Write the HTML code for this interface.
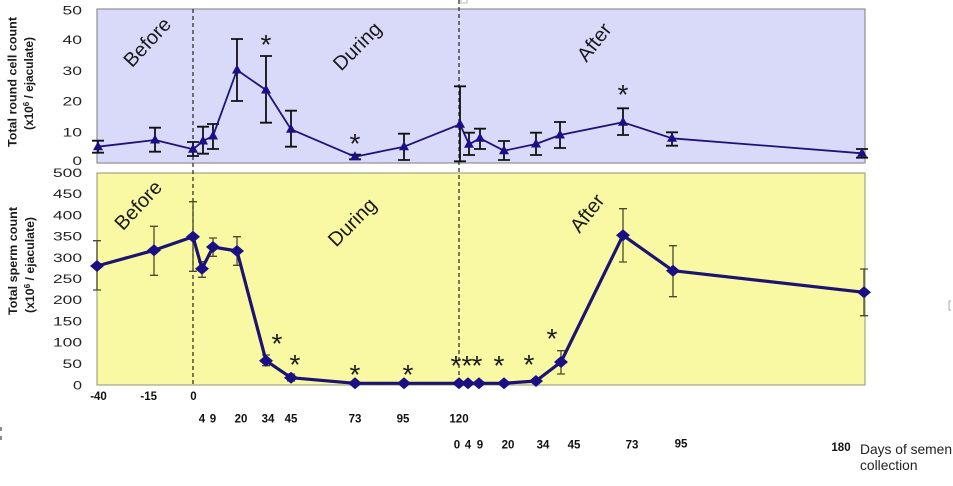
<!DOCTYPE html>
<html><head><meta charset="utf-8"><style>
html,body{margin:0;padding:0;background:#fff;}
svg{display:block;}
text{font-family:"Liberation Sans",Arial,sans-serif;}
</style></head><body>
<svg width="953" height="486" viewBox="0 0 953 486" xmlns="http://www.w3.org/2000/svg">
<defs>
<path id="dm" d="M0 -6L7 0L0 6L-7 0Z" fill="#1a0f85"/>
<path id="tr" d="M0 -5.5L5 3.5L-5 3.5Z" fill="#1a0f85"/>
</defs>
<rect width="953" height="486" fill="#fff"/>
<!-- panels -->
<rect x="97" y="9" width="768" height="154" fill="#d9d9fa" stroke="#8f8f8f" stroke-width="1.2"/>
<rect x="97" y="173" width="768" height="212" fill="#f9f9a3" stroke="#a3a387" stroke-width="1.2"/>
<!-- dashed lines -->
<line x1="193" y1="9" x2="193" y2="386" stroke="#222" stroke-width="1.2" stroke-dasharray="4 3"/>
<line x1="459" y1="0" x2="459" y2="385" stroke="#222" stroke-width="1.2" stroke-dasharray="4 3"/>
<!-- small artifacts -->
<rect x="461" y="-3" width="6" height="6" fill="none" stroke="#bbb" stroke-width="1"/>
<path d="M951 301H949V310H951" fill="none" stroke="#aaa" stroke-width="1"/>
<path d="M1 427V431M1 436V440" stroke="#666" stroke-width="1.5"/>

<!-- region labels -->
<g font-size="20" fill="#1a1a1a" text-anchor="middle">
<text transform="translate(147,42) rotate(-47)" dy="7">Before</text>
<text transform="translate(357,46) rotate(-45)" dy="7">During</text>
<text transform="translate(594,42) rotate(-52)" dy="7">After</text>
<text transform="translate(138,205) rotate(-47)" dy="7">Before</text>
<text transform="translate(352,222) rotate(-45)" dy="7">During</text>
<text transform="translate(587,213) rotate(-52)" dy="7">After</text>
</g>

<!-- top error bars -->
<path fill="none" stroke="#111" stroke-width="1.8" d="M98 140.7V152.7M92 140.7H104M92 152.7H104
M155 127.7V151.7M149 127.7H161M149 151.7H161
M193 142V156M187 142H199M187 156H199
M203 126.7V153.7M197 126.7H209M197 153.7H209
M213 124V149M207 124H219M207 149H219
M237 39V101M231 39H243M231 101H243
M266 56V122.7M260 56H272M260 122.7H272
M291 110.7V146.7M285 110.7H297M285 146.7H297
M355 154.7V159.3M349 154.7H361M349 159.3H361
M404 133.7V160M398 133.7H410M398 160H410
M460 86.3V161.3M454 86.3H466M454 161.3H466
M469 132.7V155M463 132.7H475M463 155H475
M480 128.7V149M474 128.7H486M474 149H486
M504 141V160M498 141H510M498 160H510
M536 132.7V155M530 132.7H542M530 155H542
M560 122V148M554 122H566M554 148H566
M623 108.3V135M617 108.3H629M617 135H629
M672 132.3V145.7M666 132.3H678M666 145.7H678
M862 149V157.7M856 149H868M856 157.7H868"/>
<!-- top line -->
<polyline fill="none" stroke="#1c1478" stroke-width="1.8" stroke-linejoin="round" points="98,146.7 155,140 193,149.3 203,141 213,136 237,70 266,90 291,129.3 355,156.7 404,146.7 460,124.3 469,144.3 480,138.3 504,150.7 536,144 560,135 623,122.3 672,138.3 862,153.3"/>
<g>
<use href="#tr" x="98" y="146.7"/><use href="#tr" x="155" y="140"/><use href="#tr" x="193" y="149.3"/><use href="#tr" x="203" y="141"/><use href="#tr" x="213" y="136"/><use href="#tr" x="237" y="70"/><use href="#tr" x="266" y="90"/><use href="#tr" x="291" y="129.3"/><use href="#tr" x="355" y="156.7"/><use href="#tr" x="404" y="146.7"/><use href="#tr" x="460" y="124.3"/><use href="#tr" x="469" y="144.3"/><use href="#tr" x="480" y="138.3"/><use href="#tr" x="504" y="150.7"/><use href="#tr" x="536" y="144"/><use href="#tr" x="560" y="135"/><use href="#tr" x="623" y="122.3"/><use href="#tr" x="672" y="138.3"/><use href="#tr" x="862" y="153.3"/>
</g>

<!-- bottom error bars -->
<path fill="none" stroke="#4a4a2a" stroke-width="1.3" d="M97 240.7V290M93 240.7H101M93 290H101
M154 226.3V275.3M150 226.3H158M150 275.3H158
M193 201.7V271.3M189 201.7H197M189 271.3H197
M202 261.7V277.3M198 261.7H206M198 277.3H206
M213 238V256.3M209 238H217M209 256.3H217
M237 236.7V265.3M233 236.7H241M233 265.3H241
M266 355V365.7M262 355H270M262 365.7H270
M291 374V381M287 374H295M287 381H295
M561 350.7V374M557 350.7H565M557 374H565
M623 208.7V262M619 208.7H627M619 262H627
M673 245.7V296.7M669 245.7H677M669 296.7H677
M864 269V315.7M860 269H868M860 315.7H868"/>
<!-- bottom line -->
<polyline fill="none" stroke="#1c1470" stroke-width="3.2" stroke-linejoin="round" points="97,266 154,250.3 193,236.7 202,268.7 213,247 237,251 266,360.7 291,377.7 355,383.3 404,383.3 459,383.3 468,383.3 479,383.3 504,383.3 536,381 561,362 623,235.3 673,270.7 864,292.3"/>
<g>
<use href="#dm" x="97" y="266"/><use href="#dm" x="154" y="250.3"/><use href="#dm" x="193" y="236.7"/><use href="#dm" x="202" y="268.7"/><use href="#dm" x="213" y="247"/><use href="#dm" x="237" y="251"/><use href="#dm" x="266" y="360.7"/><use href="#dm" x="291" y="377.7"/><use href="#dm" x="355" y="383.3"/><use href="#dm" x="404" y="383.3"/><use href="#dm" x="459" y="383.3"/><use href="#dm" x="468" y="383.3"/><use href="#dm" x="479" y="383.3"/><use href="#dm" x="504" y="383.3"/><use href="#dm" x="536" y="381"/><use href="#dm" x="561" y="362"/><use href="#dm" x="623" y="235.3"/><use href="#dm" x="673" y="270.7"/><use href="#dm" x="864" y="292.3"/>
</g>

<!-- asterisks -->
<g font-size="28" fill="#1a1a1a" text-anchor="middle">
<text x="266" y="54">*</text>
<text x="355" y="153">*</text>
<text x="623" y="104">*</text>
<text x="277" y="353">*</text>
<text x="295" y="374">*</text>
<text x="355" y="384">*</text>
<text x="408" y="384">*</text>
<text x="456" y="375">*</text>
<text x="467" y="375">*</text>
<text x="477" y="375">*</text>
<text x="499" y="375">*</text>
<text x="529" y="374">*</text>
<text x="552" y="348">*</text>
</g>

<!-- y tick labels top -->
<g font-size="11.5" fill="#222" text-anchor="end">
<text x="82" y="14.5" textLength="19.5" lengthAdjust="spacingAndGlyphs">50</text>
<text x="82" y="44" textLength="19.5" lengthAdjust="spacingAndGlyphs">40</text>
<text x="82" y="74.8" textLength="19.5" lengthAdjust="spacingAndGlyphs">30</text>
<text x="82" y="105.5" textLength="19.5" lengthAdjust="spacingAndGlyphs">20</text>
<text x="82" y="136.3" textLength="19.5" lengthAdjust="spacingAndGlyphs">10</text>
<text x="82" y="165" textLength="9.5" lengthAdjust="spacingAndGlyphs">0</text>
<!-- bottom -->
<text x="82" y="177" textLength="29" lengthAdjust="spacingAndGlyphs">500</text>
<text x="82" y="198.2" textLength="29" lengthAdjust="spacingAndGlyphs">450</text>
<text x="82" y="219.4" textLength="29" lengthAdjust="spacingAndGlyphs">400</text>
<text x="82" y="240.6" textLength="29" lengthAdjust="spacingAndGlyphs">350</text>
<text x="82" y="261.8" textLength="29" lengthAdjust="spacingAndGlyphs">300</text>
<text x="82" y="283" textLength="29" lengthAdjust="spacingAndGlyphs">250</text>
<text x="82" y="304.2" textLength="29" lengthAdjust="spacingAndGlyphs">200</text>
<text x="82" y="325.4" textLength="29" lengthAdjust="spacingAndGlyphs">150</text>
<text x="82" y="346.6" textLength="29" lengthAdjust="spacingAndGlyphs">100</text>
<text x="82" y="367.8" textLength="19.5" lengthAdjust="spacingAndGlyphs">50</text>
<text x="82" y="389.5" textLength="9" lengthAdjust="spacingAndGlyphs">0</text>
</g>

<!-- y axis titles -->
<g font-size="12" font-weight="bold" fill="#1a1a1a" text-anchor="middle">
<text transform="translate(16.5,82) rotate(-90)" textLength="130" lengthAdjust="spacingAndGlyphs">Total round cell count</text>
<text transform="translate(33,83.5) rotate(-90)" textLength="93" lengthAdjust="spacingAndGlyphs">(x10<tspan font-size="8" dy="-4">6</tspan><tspan dy="4"> / ejaculate)</tspan></text>
<text transform="translate(17,261) rotate(-90)" textLength="108" lengthAdjust="spacingAndGlyphs">Total sperm count</text>
<text transform="translate(34,265) rotate(-90)" textLength="96" lengthAdjust="spacingAndGlyphs">(x10<tspan font-size="8" dy="-4">6</tspan><tspan dy="4"> / ejaculate)</tspan></text>
</g>

<!-- x labels -->
<g font-size="11.5" font-weight="bold" fill="#111" text-anchor="middle">
<text x="98.5" y="400">-40</text>
<text x="148.7" y="400">-15</text>
<text x="193.5" y="400">0</text>
<text x="202" y="422.5">4</text>
<text x="213" y="422.5">9</text>
<text x="241" y="422.5">20</text>
<text x="268" y="422.5">34</text>
<text x="291" y="422.5">45</text>
<text x="355" y="422.5">73</text>
<text x="403" y="422.5">95</text>
<text x="459" y="422.5">120</text>
<text x="457" y="448.3">0</text>
<text x="468" y="448.3">4</text>
<text x="480" y="448.3">9</text>
<text x="508" y="448.3">20</text>
<text x="543" y="448.3">34</text>
<text x="574" y="448.3">45</text>
<text x="632" y="448.3">73</text>
<text x="681" y="447.5">95</text>
<text x="841" y="451">180</text>
</g>
<g font-size="13.8" fill="#222">
<text x="860" y="454">Days of semen</text>
<text x="860" y="470">collection</text>
</g>
</svg>
</body></html>
